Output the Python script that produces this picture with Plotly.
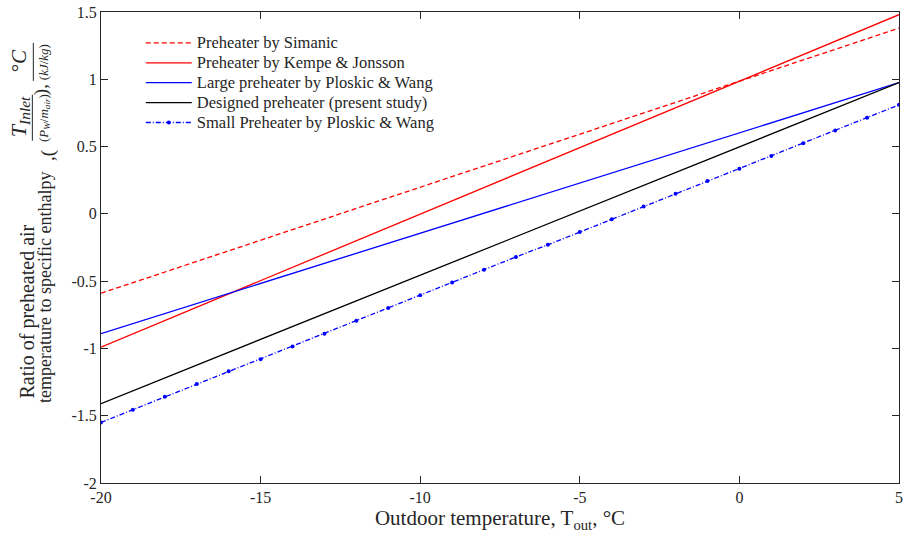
import plotly.graph_objects as go

# ---------------- data ----------------
x_ends = [-20, 5]
simanic = [-0.59, 1.38]
kempe = [-0.99, 1.48]
large_ploskic = [-0.89, 0.975]
designed = [-1.41, 0.975]

x_small = [-20, -19, -18, -17, -16, -15, -14, -13, -12, -11, -10, -9, -8, -7, -6,
           -5, -4, -3, -2, -1, 0, 1, 2, 3, 4, 5]
small_ploskic = [-1.55, -1.455, -1.36, -1.265, -1.17, -1.08, -0.985, -0.89, -0.795,
                 -0.70, -0.605, -0.51, -0.415, -0.32, -0.23, -0.135, -0.04, 0.055,
                 0.15, 0.245, 0.335, 0.43, 0.525, 0.62, 0.715, 0.81]

series_names = ["Preheater by Simanic", "Preheater by Kempe &amp; Jonsson",
                "Large preheater by Ploskic &amp; Wang", "Designed preheater (present study)",
                "Small Preheater by Ploskic &amp; Wang"]

x_ticks = [-20, -15, -10, -5, 0, 5]
x_tick_text = ["-20", "-15", "-10", "-5", "0", "5"]
y_ticks = [-2, -1.5, -1, -0.5, 0, 0.5, 1, 1.5]
y_tick_text = ["-2", "-1.5", "-1", "-0.5", "0", "0.5", "1", "1.5"]

FONT = "Liberation Serif"
TXT = "#262626"


def lg(name):
    return '<span style="font-size:16.5px">' + name + '</span>'


fig = go.Figure()
fig.add_trace(go.Scatter(x=x_ends, y=simanic, mode="lines", name=lg(series_names[0]),
                         line=dict(color="#FF0000", width=1.3, dash="5px,3px")))
fig.add_trace(go.Scatter(x=x_ends, y=kempe, mode="lines", name=lg(series_names[1]),
                         line=dict(color="#FF0000", width=1.3)))
fig.add_trace(go.Scatter(x=x_ends, y=large_ploskic, mode="lines", name=lg(series_names[2]),
                         line=dict(color="#0000FF", width=1.3)))
fig.add_trace(go.Scatter(x=x_ends, y=designed, mode="lines", name=lg(series_names[3]),
                         line=dict(color="#000000", width=1.3)))
fig.add_trace(go.Scatter(x=x_small, y=small_ploskic, mode="lines+markers",
                         name=lg(series_names[4]),
                         line=dict(color="#0000FF", width=1.3, dash="5px,2px,1px,2px"),
                         marker=dict(color="#0000FF", size=4)))

L, R, T, B = 101, 4, 11, 56
W, H = 907, 539
PW, PH = W - L - R, H - T - B


def px(xp):
    return (xp - L) / PW


def py(yp):
    return (H - B - yp) / PH


fig.update_layout(
    width=W, height=H,
    margin=dict(l=L, r=R, t=T, b=B),
    paper_bgcolor="white", plot_bgcolor="white",
    font=dict(family=FONT, color=TXT, size=16),
    showlegend=True,
    legend=dict(x=px(141), y=py(27), xanchor="left", yanchor="top",
                bgcolor="rgba(255,255,255,0)", borderwidth=0,
                font=dict(family=FONT, size=13, color=TXT),
                tracegroupgap=0, itemwidth=46),
    xaxis=dict(range=[-20, 5], tickvals=x_ticks, ticktext=x_tick_text, ticks="inside",
               ticklen=7, showline=True, linecolor=TXT, linewidth=1, mirror="ticks",
               showgrid=False, zeroline=False, tickcolor=TXT,
               tickfont=dict(family=FONT, size=16, color=TXT),
               title=dict(text="Outdoor temperature, T<sub>out</sub>, °C",
                          font=dict(family=FONT, size=21, color=TXT), standoff=4)),
    yaxis=dict(range=[-2, 1.5], tickvals=y_ticks, ticktext=y_tick_text, ticks="inside",
               ticklen=7, showline=True, linecolor=TXT, linewidth=1, mirror="ticks",
               showgrid=False, zeroline=False, tickcolor=TXT,
               tickfont=dict(family=FONT, size=16, color=TXT)),
)

ann = []


def add_text(text, cx, cy, size, xanchor="center", yanchor="middle"):
    ann.append(dict(text=text, x=px(cx), y=py(cy), xref="paper", yref="paper",
                    showarrow=False, textangle=-90, xanchor=xanchor, yanchor=yanchor,
                    font=dict(family=FONT, size=size, color=TXT)))


add_text("Ratio of preheated air", 27, 400, 20, yanchor="bottom")
add_text("temperature to specific enthalpy", 44, 405, 18, yanchor="bottom")
add_text(",(", 47, 155, 19)
add_text("<i>T</i><sub><i>Inlet</i></sub>", 19, 116, 22)
add_text("(<i>P<sub>W</sub></i>/<i>m<sub>air</sub></i>)", 44, 117, 13)
add_text("),", 41, 89, 19)
add_text("°<i>C</i>", 18, 60, 21)
add_text("(<i>kJ</i>/<i>kg</i>)", 44, 61, 13)
fig.update_layout(annotations=ann)

fig.add_shape(type="line", xref="paper", yref="paper", x0=px(32), x1=px(32),
              y0=py(94), y1=py(140), line=dict(color=TXT, width=1))
fig.add_shape(type="line", xref="paper", yref="paper", x0=px(33), x1=px(33),
              y0=py(42), y1=py(80), line=dict(color=TXT, width=1))

fig.write_html("out.html")
